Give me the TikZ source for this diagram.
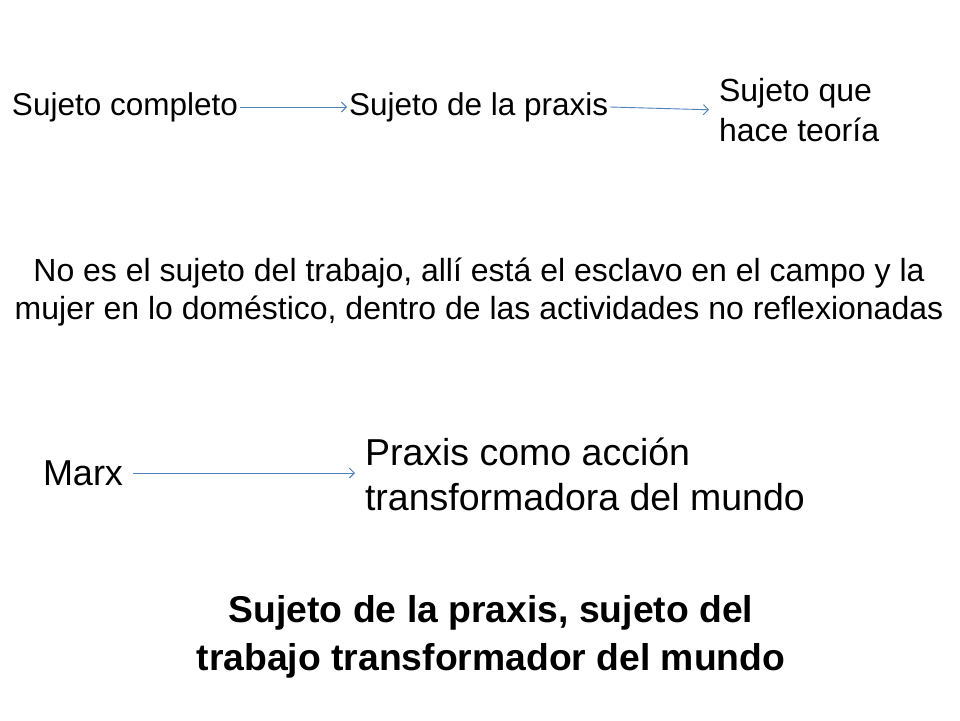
\documentclass[tikz,border=0pt]{standalone}
\usepackage{fontspec}
\setmainfont{Liberation Sans}
\usetikzlibrary{arrows.meta}
\definecolor{arrowblue}{RGB}{79,129,189}
\tikzset{
  txt/.style={inner sep=0pt, outer sep=2pt, text=black},
  conn/.style={draw=arrowblue, line width=0.9pt, -{Straight Barb[length=5pt,width=10pt]}},
}
\begin{document}
\begin{tikzpicture}[x=1pt,y=-1pt]
\useasboundingbox[fill=white] (0,0) rectangle (960,720);
% top row
\node[txt, anchor=west, font=\fontsize{31.5}{36}\selectfont] (completo) at (10,107) {Sujeto completo};
\node[txt, anchor=west, font=\fontsize{31.5}{36}\selectfont] (praxis) at (347,107) {Sujeto de la praxis};
\node[txt, anchor=west, align=left, font=\fontsize{32}{40}\selectfont] (teoria) at (717,110) {Sujeto que\\hace teoría};
\draw[conn] (completo.east) -- (praxis.west);
\draw[conn, shorten >=8pt] (praxis.east) -- (teoria.west);
% middle text
\node[txt, align=center, font=\fontsize{32}{38}\selectfont] (nota) at (479,292) {No es el sujeto del trabajo, allí está el esclavo en el campo y la\\mujer en lo doméstico, dentro de las actividades no reflexionadas};
% Marx row
\node[txt, anchor=west, font=\fontsize{36}{40}\selectfont] (marx) at (41,473) {Marx};
\node[txt, anchor=west, align=left, font=\fontsize{37.5}{45}\selectfont] (accion) at (363,474) {Praxis como acción\\transformadora del mundo};
\draw[conn, shorten <=8pt, shorten >=8pt] (marx.east) -- (marx.east -| accion.west);
% bottom bold
\node[txt, align=center, font=\bfseries\fontsize{37.3}{48}\selectfont] (final) at (491,637) {Sujeto de la praxis, sujeto del\\trabajo transformador del mundo};
\end{tikzpicture}
\end{document}
